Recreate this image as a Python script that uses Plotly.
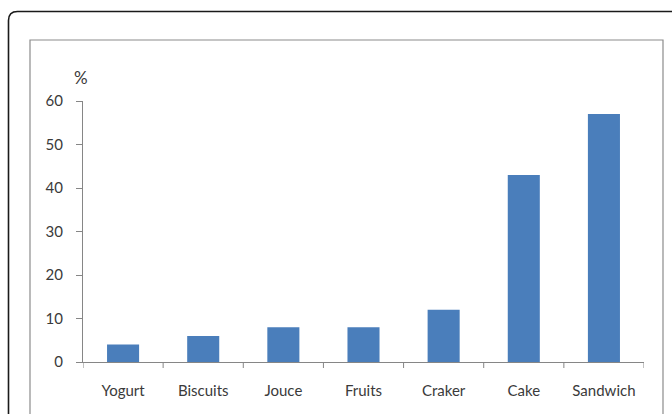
import plotly.graph_objects as go

categories = ["Yogurt", "Biscuits", "Jouce", "Fruits", "Craker", "Cake", "Sandwich"]
percentages = [4, 6, 8, 8, 12, 43, 57]
y_ticks = [0, 10, 20, 30, 40, 50, 60]

W, H = 672, 414
L, R, T, B = 83, 28, 101, 52
pw, ph = W - L - R, H - T - B


def px_x(px):
    return (px - L) / pw


def px_y(py):
    return (H - B - py) / ph


axis_grey = "#868686"
text_col = "#3a3a3a"
font_family = "Lato, 'Open Sans', sans-serif"

fig = go.Figure(
    go.Bar(
        x=categories,
        y=percentages,
        marker=dict(color="#4A7EBB", line=dict(width=0)),
        width=0.4,
    )
)

# outer frame with rounded top-left corner, running off the right and bottom
r = 9
x0, y0 = 8.5, 11.5
outer_path = (
    f"M {px_x(x0)},{px_y(H + 10)} L {px_x(x0)},{px_y(y0 + r)} "
    f"Q {px_x(x0)},{px_y(y0)} {px_x(x0 + r)},{px_y(y0)} "
    f"L {px_x(W + 10)},{px_y(y0)}"
)

shapes = [
    dict(type="path", path=outer_path, xref="paper", yref="paper",
         line=dict(color="#1a1a1a", width=1.6)),
    dict(type="path",
         path=(f"M {px_x(30)},{px_y(H + 10)} L {px_x(30)},{px_y(40)} "
               f"L {px_x(663)},{px_y(40)} L {px_x(663)},{px_y(H + 10)}"),
         xref="paper", yref="paper",
         line=dict(color="#8c8c8c", width=1.2)),
]

fig.update_layout(
    width=W,
    height=H,
    margin=dict(l=L, r=R, t=T, b=B, pad=0),
    paper_bgcolor="white",
    plot_bgcolor="white",
    showlegend=False,
    bargap=0.6,
    font=dict(family=font_family, size=15, color=text_col),
    shapes=shapes,
    annotations=[
        dict(text="%", xref="paper", yref="paper", x=px_x(81), y=px_y(78),
             xanchor="center", yanchor="middle", showarrow=False,
             font=dict(family=font_family, size=17, color=text_col)),
    ],
    xaxis=dict(
        showline=True, linecolor=axis_grey, linewidth=1,
        ticks="", showgrid=False, zeroline=False,
        tickfont=dict(size=15, color=text_col),
        ticklabelstandoff=15,
        range=[-0.5, len(categories) - 0.5],
    ),
    yaxis=dict(
        range=[0, 60], tickvals=y_ticks,
        showline=True, linecolor=axis_grey, linewidth=1,
        ticks="outside", ticklen=6, tickcolor=axis_grey, tickwidth=1,
        showgrid=False, zeroline=False,
        tickfont=dict(size=15, color=text_col),
        ticklabelstandoff=10,
    ),
)

# category separator ticks on the x axis
for i in range(len(categories) + 1):
    fig.add_shape(type="line", xref="x", yref="paper",
                  x0=i - 0.5, x1=i - 0.5, y0=0, y1=px_y(H - B + 6),
                  line=dict(color=axis_grey, width=1))

fig.write_html("out.html")
